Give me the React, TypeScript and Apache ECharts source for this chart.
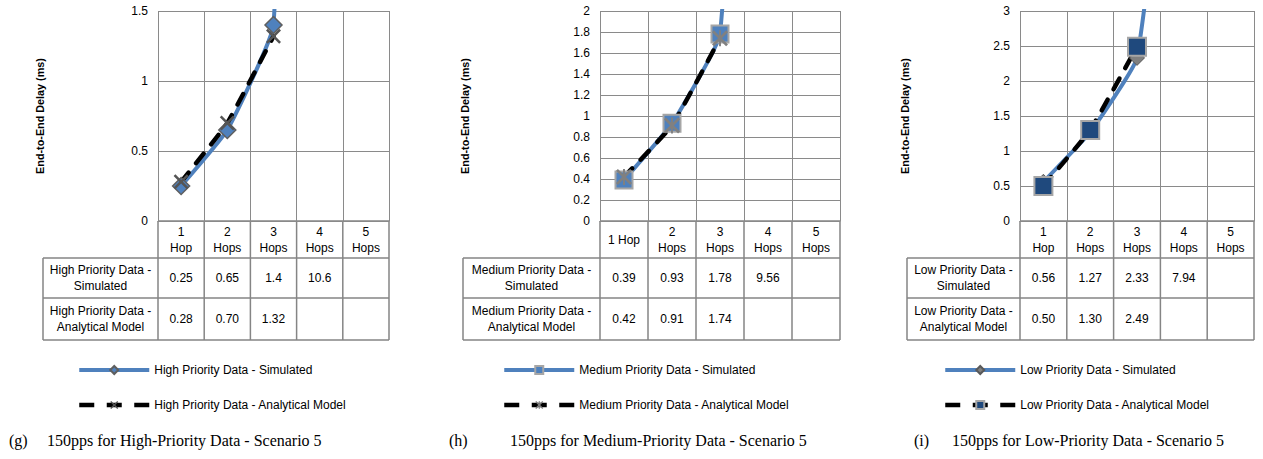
import React, { useEffect, useRef } from "react";
import * as echarts from "echarts";

// ---------- data ----------
const catsHigh = ["1\nHop", "2\nHops", "3\nHops", "4\nHops", "5\nHops"];
const catsMed = ["1 Hop", "2\nHops", "3\nHops", "4\nHops", "5\nHops"];
const catsLow = ["1\nHop", "2\nHops", "3\nHops", "4\nHops", "5\nHops"];

const highSim: (number | null)[] = [0.25, 0.65, 1.4, 10.6, null];
const highAna: (number | null)[] = [0.28, 0.7, 1.32, null, null];
const medSim: (number | null)[] = [0.39, 0.93, 1.78, 9.56, null];
const medAna: (number | null)[] = [0.42, 0.91, 1.74, null, null];
const lowSim: (number | null)[] = [0.56, 1.27, 2.33, 7.94, null];
const lowAna: (number | null)[] = [0.5, 1.3, 2.49, null, null];

const yMaxes = [1.5, 2, 3];
const yIntervals = [0.5, 0.2, 0.5];

const namesHigh = ["High Priority Data - Simulated", "High Priority Data - Analytical Model"];
const namesMed = ["Medium Priority Data - Simulated", "Medium Priority Data - Analytical Model"];
const namesLow = ["Low Priority Data - Simulated", "Low Priority Data - Analytical Model"];

const rowLabelsHigh = ["High Priority Data -\nSimulated", "High Priority Data -\nAnalytical Model"];
const rowLabelsMed = ["Medium Priority Data -\nSimulated", "Medium Priority Data -\nAnalytical Model"];
const rowLabelsLow = ["Low Priority Data -\nSimulated", "Low Priority Data -\nAnalytical Model"];

const captionLetters = ["(g)", "(h)", "(i)"];
const captions = [
  "150pps for High-Priority Data - Scenario 5",
  "150pps for Medium-Priority Data - Scenario 5",
  "150pps for Low-Priority Data - Scenario 5",
];
const yTitle = "End-to-End Delay (ms)";

// ---------- styling / layout ----------
const SANS = "'Liberation Sans', Arial, sans-serif";
const SERIF = "'Liberation Serif', 'Times New Roman', serif";
const GRID_COLOR = "#8a8a8a";
const TABLE_COLOR = "#858585";
const BLUE = "#4F81BD";
const FS = 12;

const X_PATH =
  "path://M0,1.2L1.2,0L5,3.8L8.8,0L10,1.2L6.2,5L10,8.8L8.8,10L5,6.2L1.2,10L0,8.8L3.8,5Z";
const STAR_PATH =
  "path://M0,1.2L1.2,0L5,3.8L8.8,0L10,1.2L6.2,5L10,8.8L8.8,10L5,6.2L1.2,10L0,8.8L3.8,5Z M4.4,0L5.6,0L5.6,10L4.4,10Z";

const PLOT_TOP = 11;
const PLOT_H = 210;
const PLOT_BOTTOM = PLOT_TOP + PLOT_H;
const ROW_Y = [PLOT_BOTTOM, 258, 298, 340];

const layout = [
  { gridLeft: 158, gridWidth: 231, labelLeft: 43, titleX: 40, legendLeft: 77, letterX: 9, capX: 47 },
  { gridLeft: 600, gridWidth: 240, labelLeft: 463, titleX: 465, legendLeft: 502, letterX: 449, capX: 510 },
  { gridLeft: 1020, gridWidth: 234, labelLeft: 907, titleX: 905, legendLeft: 943, letterX: 914, capX: 952 },
];

const fmtSim = (v: number | null) => (v == null ? "" : String(v));
const fmtAna = (v: number | null) => (v == null ? "" : v.toFixed(2));

function tableElements(
  i: number,
  cats: string[],
  rowLabels: string[],
  sim: (number | null)[],
  ana: (number | null)[]
) {
  const L = layout[i];
  const right = L.gridLeft + L.gridWidth;
  const w = L.gridWidth / cats.length;
  const els: any[] = [];
  const line = (x1: number, y1: number, x2: number, y2: number) =>
    els.push({ type: "line", shape: { x1, y1, x2, y2 }, style: { stroke: TABLE_COLOR, lineWidth: 1.5 }, silent: true });
  line(L.gridLeft, ROW_Y[0], right, ROW_Y[0]);
  for (let r = 1; r < ROW_Y.length; r++) line(L.labelLeft, ROW_Y[r], right, ROW_Y[r]);
  line(L.labelLeft, ROW_Y[1], L.labelLeft, ROW_Y[3]);
  for (let c = 0; c <= cats.length; c++) line(L.gridLeft + c * w, ROW_Y[0], L.gridLeft + c * w, ROW_Y[3]);
  const text = (x: number, y: number, t: string) =>
    els.push({
      type: "text",
      x,
      y,
      silent: true,
      style: { text: t, fontSize: FS, fontFamily: SANS, fill: "#000", align: "center", verticalAlign: "middle", lineHeight: 16 },
    });
  const rows = [cats, sim.map(fmtSim), ana.map(fmtAna)];
  rows.forEach((vals, r) => {
    const cy = (ROW_Y[r] + ROW_Y[r + 1]) / 2;
    vals.forEach((t, c) => text(L.gridLeft + (c + 0.5) * w, cy, t));
    if (r > 0) text((L.labelLeft + L.gridLeft) / 2, cy, rowLabels[r - 1]);
  });
  // y axis title
  els.push({
    type: "text",
    x: L.titleX,
    y: (PLOT_TOP + PLOT_BOTTOM) / 2,
    rotation: Math.PI / 2,
    silent: true,
    style: { text: yTitle, fontSize: 10.8, fontWeight: "bold", fontFamily: SANS, fill: "#000", align: "center", verticalAlign: "middle" },
  });
  // caption
  els.push({
    type: "text",
    x: L.letterX,
    y: 440,
    silent: true,
    style: { text: captionLetters[i], fontSize: 16, fontFamily: SERIF, fill: "#000", align: "left", verticalAlign: "middle" },
  });
  els.push({
    type: "text",
    x: L.capX,
    y: 440,
    silent: true,
    style: { text: captions[i], fontSize: 16, fontFamily: SERIF, fill: "#000", align: "left", verticalAlign: "middle" },
  });
  return els;
}

export default function App() {
  const ref = useRef<HTMLDivElement>(null);
  useEffect(() => {
    if (!ref.current) return;
    const chart = echarts.init(ref.current, undefined, { renderer: "svg" });
    const allCats = [catsHigh, catsMed, catsLow];

    const grids = layout.map((L) => ({ left: L.gridLeft, top: PLOT_TOP, width: L.gridWidth, height: PLOT_H }));
    const xAxes = allCats.map((cats, i) => ({
      type: "category",
      gridIndex: i,
      data: cats,
      boundaryGap: true,
      axisLabel: { show: false },
      axisTick: { show: false },
      axisLine: { show: true, lineStyle: { color: GRID_COLOR, width: 1 } },
      splitLine: { show: true, interval: 0, lineStyle: { color: GRID_COLOR, width: 1 } },
    }));
    const yAxes = yMaxes.map((m, i) => ({
      type: "value",
      gridIndex: i,
      min: 0,
      max: m,
      interval: yIntervals[i],
      axisLine: { show: false },
      axisTick: { show: false },
      axisLabel: { fontSize: FS, fontFamily: SANS, color: "#000", margin: 10 },
      splitLine: { show: true, lineStyle: { color: GRID_COLOR, width: 1 } },
    }));

    const simLine = { color: BLUE, width: 4 };
    const anaLine = { color: "#000", width: 4.5, type: [12, 12] as any, cap: "round" };
    const SM = 0.12;

    const series: any[] = [
      {
        type: "line", name: namesHigh[0], xAxisIndex: 0, yAxisIndex: 0, data: highSim, smooth: SM,
        symbol: "diamond", symbolSize: 17, lineStyle: simLine,
        itemStyle: { color: BLUE, borderColor: "#5f5f5f", borderWidth: 1.5 },
      },
      {
        type: "line", name: namesHigh[1], xAxisIndex: 0, yAxisIndex: 0, data: highAna, smooth: SM,
        symbol: X_PATH, symbolSize: 15, lineStyle: anaLine, itemStyle: { color: "#555555", borderWidth: 0 },
      },
      {
        type: "line", name: namesMed[0], xAxisIndex: 1, yAxisIndex: 1, data: medSim, smooth: SM,
        symbol: "rect", symbolSize: 17, lineStyle: simLine,
        itemStyle: { color: BLUE, borderColor: "#a6a6a6", borderWidth: 2 },
      },
      {
        type: "line", name: namesMed[1], xAxisIndex: 1, yAxisIndex: 1, data: medAna, smooth: SM,
        symbol: STAR_PATH, symbolSize: 16, lineStyle: anaLine, itemStyle: { color: "#808080", borderWidth: 0 },
      },
      {
        type: "line", name: namesLow[0], xAxisIndex: 2, yAxisIndex: 2, data: lowSim, smooth: SM,
        symbol: "diamond", symbolSize: 15, lineStyle: simLine,
        itemStyle: { color: "#808080", borderColor: "#595959", borderWidth: 1 },
      },
      {
        type: "line", name: namesLow[1], xAxisIndex: 2, yAxisIndex: 2, data: lowAna, smooth: SM,
        symbol: "rect", symbolSize: 18, lineStyle: anaLine,
        itemStyle: { color: "#1F497D", borderColor: "#a6a6a6", borderWidth: 2 },
      },
    ];

    const legends = [namesHigh, namesMed, namesLow].map((names, i) => ({
      orient: "vertical",
      left: layout[i].legendLeft,
      top: 364,
      padding: 0,
      itemWidth: 70,
      itemHeight: 10,
      itemGap: 23,
      selectedMode: false,
      textStyle: { fontSize: FS, fontFamily: SANS, color: "#000" },
      data: [
        { name: names[0], lineStyle: { width: 4 } },
        { name: names[1], lineStyle: { width: 4.5, type: [15, 12.5], cap: "butt" } },
      ],
    }));

    const graphics = [
      ...tableElements(0, catsHigh, rowLabelsHigh, highSim, highAna),
      ...tableElements(1, catsMed, rowLabelsMed, medSim, medAna),
      ...tableElements(2, catsLow, rowLabelsLow, lowSim, lowAna),
    ];

    chart.setOption({
      animation: false,
      backgroundColor: "#fff",
      grid: grids,
      xAxis: xAxes,
      yAxis: yAxes,
      series,
      legend: legends,
      graphic: { elements: graphics },
    });
    return () => chart.dispose();
  }, []);
  return <div ref={ref} style={{ position: "absolute", left: 0, top: 0, width: 1263, height: 459 }} />;
}
